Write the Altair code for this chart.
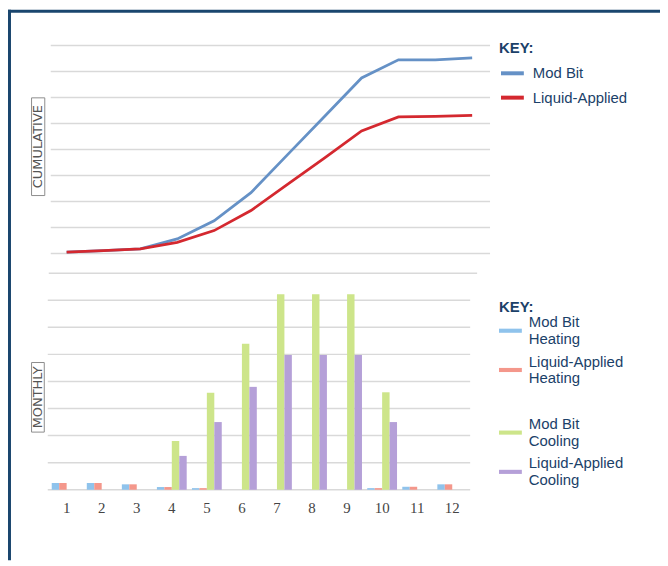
import altair as alt
import pandas as pd

# ---------------- data ----------------
months = list(range(1, 13))

# cumulative (top panel)
series_cum = ["Mod Bit", "Liquid-Applied"]
mod_bit_cum = [0.05, 0.11, 0.18, 0.56, 1.26, 2.34, 3.81, 5.28, 6.75, 7.45, 7.45, 7.52]
liquid_cum = [0.05, 0.11, 0.18, 0.43, 0.88, 1.65, 2.67, 3.68, 4.71, 5.25, 5.27, 5.31]

# monthly (bottom panel)
series_heat = ["Mod Bit Heating", "Liquid-Applied Heating"]
series_cool = ["Mod Bit Cooling", "Liquid-Applied Cooling"]
mod_bit_heat = [0.25, 0.25, 0.2, 0.1, 0.06, 0.0, 0.0, 0.0, 0.0, 0.06, 0.11, 0.2]
liquid_heat = [0.25, 0.25, 0.2, 0.1, 0.06, 0.0, 0.0, 0.0, 0.0, 0.06, 0.11, 0.2]
mod_bit_cool = [0.0, 0.0, 0.0, 1.8, 3.58, 5.39, 7.22, 7.22, 7.22, 3.6, 0.0, 0.0]
liquid_cool = [0.0, 0.0, 0.0, 1.25, 2.5, 3.8, 4.98, 4.98, 4.98, 2.5, 0.0, 0.0]

# gridline levels
top_grid = [0, 1, 2, 3, 4, 5, 6, 7, 8]
top_base = [-0.765]
bottom_grid = [0, 1, 2, 3, 4, 5, 6, 7]

panel_labels = ["CUMULATIVE", "MONTHLY"]

# ---------------- style ----------------
NAVY = "#1b4169"
FRAME = "#1a466e"
GRID = "#d9d9d9"
colors_cum = ["#6591c6", "#d4282f"]
colors_heat = ["#8fc3ec", "#f4978b"]
colors_cool = ["#cde58a", "#b5a0d8"]
offset_order = series_heat + series_cool
# legend swatch for the bars, drawn between the two lines of its label
BAR_SYMBOL = "M-1,0.56L1,0.56L1,0.92L-1,0.92Z"
W, H = 443, 447

# ---------------- frames ----------------
cum_df = pd.DataFrame({
    "month": months * 2,
    "value": mod_bit_cum + liquid_cum,
    "series": [series_cum[0]] * 12 + [series_cum[1]] * 12,
})
heat_df = pd.DataFrame({
    "month": months * 2,
    "value": mod_bit_heat + liquid_heat,
    "series": [series_heat[0]] * 12 + [series_heat[1]] * 12,
})
cool_df = pd.DataFrame({
    "month": months * 2,
    "value": mod_bit_cool + liquid_cool,
    "series": [series_cool[0]] * 12 + [series_cool[1]] * 12,
})

# ---------------- top panel ----------------
y_top_scale = alt.Scale(domain=[-9.087, 8], nice=False, zero=False)
x_top_scale = alt.Scale(domain=[0.5417, 12.485], nice=False, zero=False)

top_gridlines = alt.Chart(pd.DataFrame({"v": top_grid})).mark_rule(
    color=GRID, strokeWidth=1.5
).encode(
    y=alt.Y("v:Q", scale=y_top_scale, axis=None),
    x=alt.value(1), x2=alt.value(443),
)
top_baseline = alt.Chart(pd.DataFrame({"v": top_base})).mark_rule(
    color=GRID, strokeWidth=1.5
).encode(
    y=alt.Y("v:Q", scale=y_top_scale, axis=None),
    x=alt.value(-1), x2=alt.value(430),
)

legend_common = dict(
    orient="none", direction="vertical", padding=0,
    titleFont="Liberation Sans Narrow, Liberation Sans, sans-serif",
    titleFontSize=15, titleFontWeight="bold", titleColor=NAVY,
    labelFont="Liberation Sans", labelFontSize=15, labelColor=NAVY,
    labelOffset=7, labelLimit=300, symbolSize=529,
)

lines = alt.Chart(cum_df).mark_line(strokeWidth=2.75).encode(
    x=alt.X("month:Q", scale=x_top_scale, axis=None),
    y=alt.Y("value:Q", scale=y_top_scale, axis=None),
    color=alt.Color(
        "series:N",
        scale=alt.Scale(domain=series_cum, range=colors_cum),
        legend=alt.Legend(
            title="KEY:", legendX=452, legendY=-4.5, titlePadding=4,
            rowPadding=2.5, symbolType="stroke", symbolStrokeWidth=4,
            **legend_common,
        ),
    ),
)

top_layer = alt.layer(top_gridlines, top_baseline, lines)

# ---------------- bottom panel ----------------
y_bot_scale = alt.Scale(domain=[0, 16.41], nice=False, zero=True)
x_bot = alt.X(
    "month:O",
    scale=alt.Scale(paddingInner=0.15, paddingOuter=0.355, align=0.08),
    axis=alt.Axis(
        title=None, labelAngle=0, ticks=False, domain=False, grid=False,
        labelFont="Liberation Serif", labelFontSize=15, labelColor="#444",
        labelPadding=11,
    ),
)
xoff = alt.XOffset(
    "series:N", scale=alt.Scale(domain=offset_order, paddingInner=0, paddingOuter=0)
)

bottom_gridlines = alt.Chart(pd.DataFrame({"v": bottom_grid})).mark_rule(
    color=GRID, strokeWidth=1.5
).encode(
    y=alt.Y("v:Q", scale=y_bot_scale, axis=None),
    x=alt.value(-2), x2=alt.value(423),
)

label_expr = (
    "[slice(datum.label, 0, lastindexof(datum.label, ' ')), "
    "slice(datum.label, lastindexof(datum.label, ' ') + 1)]"
)

heat_bars = alt.Chart(heat_df).mark_bar().encode(
    x=x_bot, xOffset=xoff,
    y=alt.Y("value:Q", scale=y_bot_scale, axis=None),
    color=alt.Color(
        "series:N",
        scale=alt.Scale(domain=series_heat, range=colors_heat),
        legend=alt.Legend(
            title="KEY:", legendX=452, legendY=256.5, titlePadding=-4.5,
            rowPadding=2.5, symbolType=BAR_SYMBOL, symbolStrokeWidth=0,
            labelExpr=label_expr, **legend_common,
        ),
    ),
)
cool_bars = alt.Chart(cool_df).mark_bar().encode(
    x=x_bot, xOffset=xoff,
    y=alt.Y("value:Q", scale=y_bot_scale, axis=None),
    color=alt.Color(
        "series:N",
        scale=alt.Scale(domain=series_cool, range=colors_cool),
        legend=alt.Legend(
            title=None, legendX=452, legendY=369.5,
            rowPadding=2.5, symbolType=BAR_SYMBOL, symbolStrokeWidth=0,
            labelExpr=label_expr, **legend_common,
        ),
    ),
)

bottom_layer = alt.layer(bottom_gridlines, heat_bars, cool_bars).resolve_scale(
    color="independent"
)

# ---------------- decorations ----------------
one = pd.DataFrame({"k": [0]})
frame_top = alt.Chart(one).mark_rect(color=FRAME).encode(
    x=alt.value(-42), x2=alt.value(614), y=alt.value(-36), y2=alt.value(-33)
)
frame_left = alt.Chart(one).mark_rect(color=FRAME).encode(
    x=alt.value(-42), x2=alt.value(-39), y=alt.value(-36), y2=alt.value(518)
)

box_cum = alt.Chart(one).mark_rect(fill="white", stroke="#8c8c8c", strokeWidth=1).encode(
    x=alt.value(-18.3), x2=alt.value(-5), y=alt.value(52.7), y2=alt.value(151)
)
box_mon = alt.Chart(one).mark_rect(fill="white", stroke="#8c8c8c", strokeWidth=1).encode(
    x=alt.value(-18.3), x2=alt.value(-5.5), y=alt.value(319), y2=alt.value(389)
)
text_style = dict(angle=270, font="DejaVu Sans", fontSize=13, color="#555",
                  align="center", baseline="middle")
txt_cum = alt.Chart(pd.DataFrame({"t": [panel_labels[0]]})).mark_text(**text_style).encode(
    text="t:N", x=alt.value(-11.4), y=alt.value(101.8)
)
txt_mon = alt.Chart(pd.DataFrame({"t": [panel_labels[1]]})).mark_text(**text_style).encode(
    text="t:N", x=alt.value(-11.6), y=alt.value(354)
)

chart = alt.layer(
    frame_top, frame_left, box_cum, box_mon, txt_cum, txt_mon,
    top_layer, bottom_layer,
).resolve_scale(
    x="independent", y="independent", color="independent"
).properties(
    width=W, height=H, padding=0, background="white"
).configure_view(stroke=None)

chart.save("out.html", embed_options={"renderer": "svg", "actions": False})
